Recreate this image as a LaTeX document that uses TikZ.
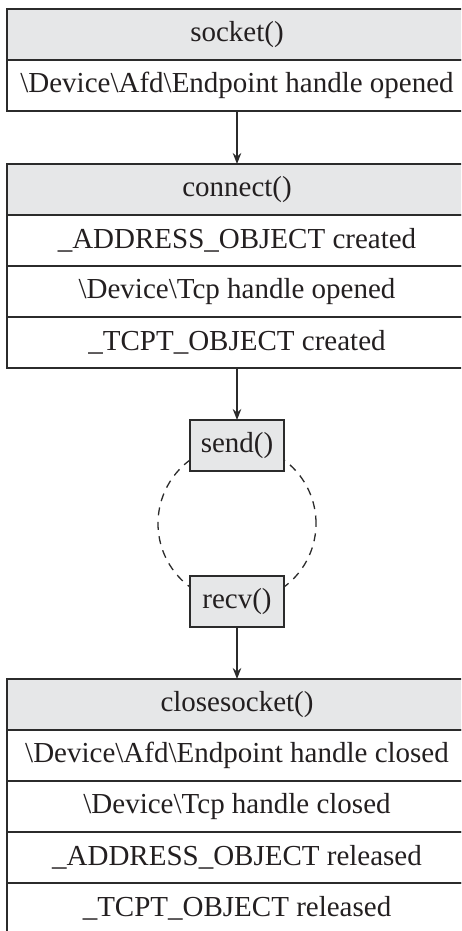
\documentclass[tikz,border=0pt]{standalone}
\usepackage{fontspec}
\setmainfont{Liberation Serif}
\usetikzlibrary{arrows.meta,positioning,calc,backgrounds}
\usepackage{xcolor}
\definecolor{boxgray}{HTML}{E6E7E8}
\definecolor{inkline}{HTML}{2B2B2B}
\definecolor{inktext}{HTML}{231F20}

\begin{document}
\begin{tikzpicture}[x=1pt,y=1pt,
        cell/.style={rectangle, draw=inkline, line width=1.4pt, outer sep=0pt, inner sep=0pt,
            minimum width=460pt, minimum height=51pt, text=inktext,
            font=\fontsize{29}{33}\selectfont},
        head/.style={cell, fill=boxgray},
        call/.style={head, minimum width=94pt},
        flow/.style={-{Stealth[length=11pt,width=8.5pt]}, draw=inkline, line width=1.4pt},
        loop/.style={draw=inkline, line width=1.3pt, dash pattern=on 8pt off 6.5pt}
    ]
        \path[use as bounding box, clip] (0,0) rectangle (461,-931);

        % socket()
        \node[head] (sock) at (237,-34.5) {socket()};
        \node[cell, below=0pt of sock] (sockA) {\textbackslash Device\textbackslash Afd\textbackslash Endpoint handle opened};

        % connect()
        \node[head, below=53pt of sockA] (conn) {connect()};
        \node[cell, below=0pt of conn] (connA) {\_ADDRESS\_OBJECT created};
        \node[cell, below=0pt of connA] (connB) {\textbackslash Device\textbackslash Tcp handle opened};
        \node[cell, below=0pt of connB] (connC) {\_TCPT\_OBJECT created};

        % send()/recv() loop
        \node[call, below=52pt of connC] (send) {send()};
        \node[call, below=105pt of send] (recv) {recv()};
        \begin{scope}[on background layer]
            \draw[loop] ($(send.south)!0.5!(recv.north)$) circle (79pt);
        \end{scope}

        % closesocket()
        \node[head, below=52pt of recv] (close) {closesocket()};
        \node[cell, below=0pt of close] (closeA) {\textbackslash Device\textbackslash Afd\textbackslash Endpoint handle closed};
        \node[cell, below=0pt of closeA] (closeB) {\textbackslash Device\textbackslash Tcp handle closed};
        \node[cell, below=0pt of closeB] (closeC) {\_ADDRESS\_OBJECT released};
        \node[cell, below=0pt of closeC] (closeD) {\_TCPT\_OBJECT released};

        \draw[flow] (sockA) -- (conn);
        \draw[flow] (connC) -- (send);
        \draw[flow] (recv) -- (close);
    \end{tikzpicture}
\end{document}
